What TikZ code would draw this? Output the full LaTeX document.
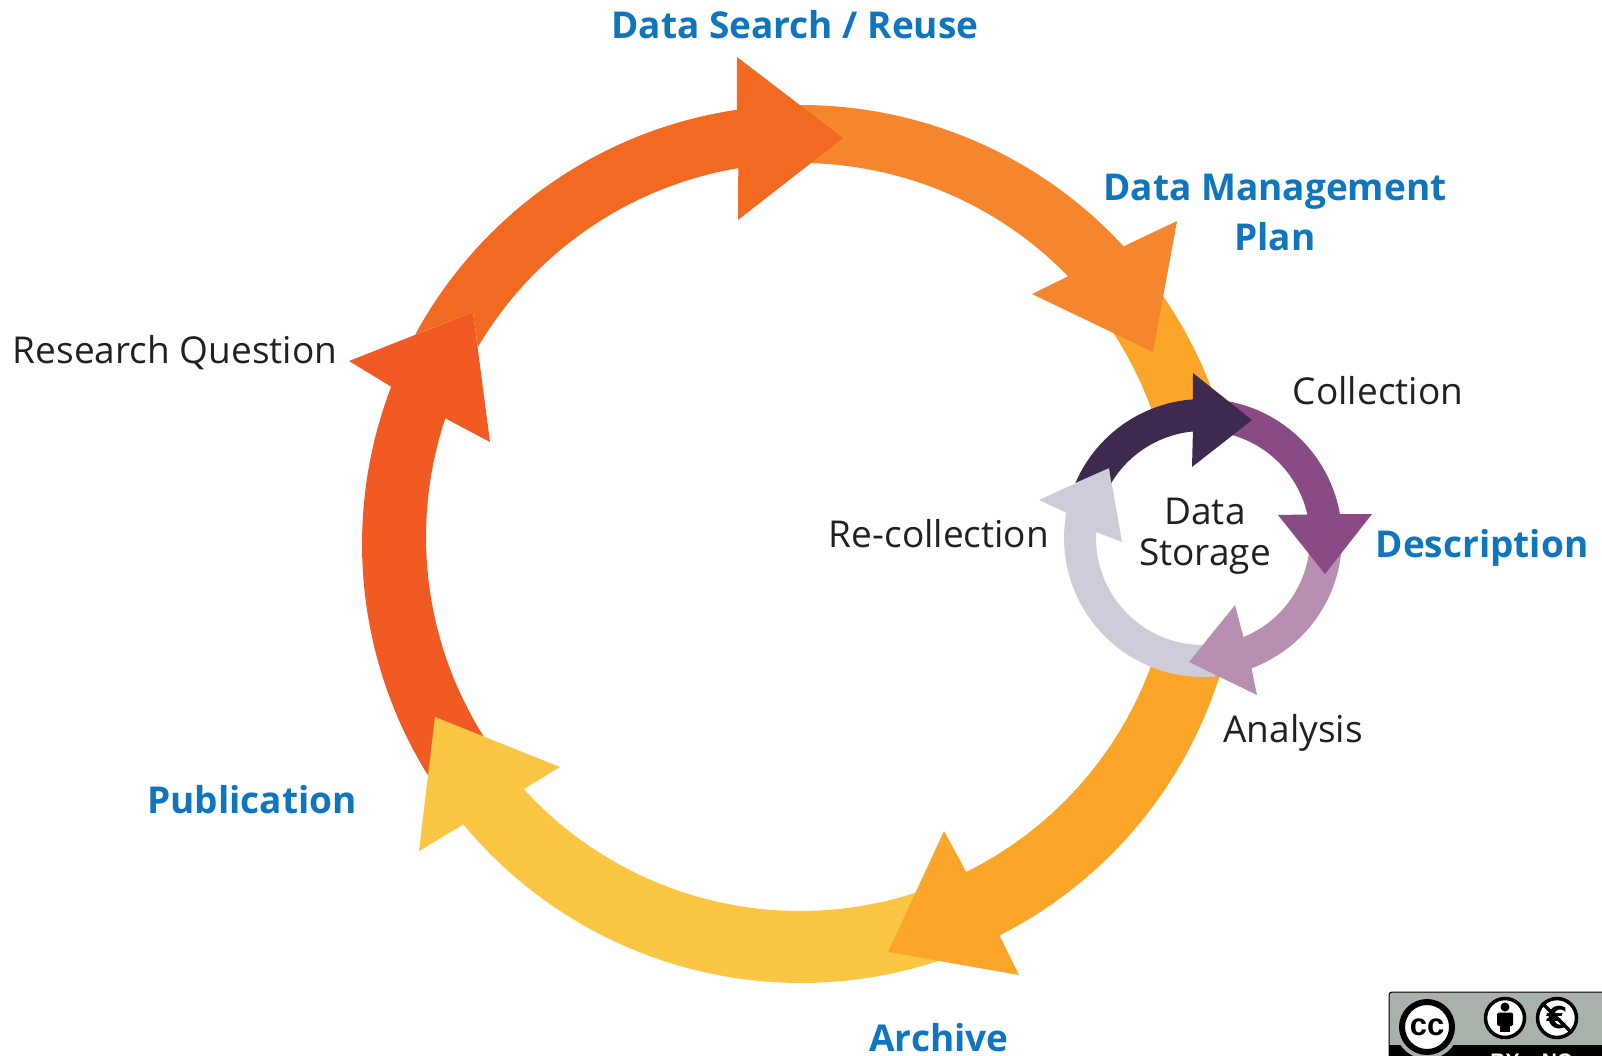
\documentclass[tikz,border=0pt]{standalone}
\usepackage{fontspec}
\setmainfont{Open Sans}
\newfontfamily\badgeFont{Liberation Sans}
\newfontfamily\euroFont{DejaVu Sans}
\definecolor{stepRed}{HTML}{F15A22}
\definecolor{stepDark}{HTML}{F26A21}
\definecolor{stepOrange}{HTML}{F6862D}
\definecolor{stepAmber}{HTML}{FBA629}
\definecolor{stepYellow}{HTML}{FCC645}
\definecolor{loopDark}{HTML}{3F2A4F}
\definecolor{loopPurple}{HTML}{8A4A86}
\definecolor{loopMauve}{HTML}{B78FB0}
\definecolor{loopPale}{HTML}{CFCCDA}
\definecolor{keyBlue}{HTML}{0F75BC}
\definecolor{plainText}{HTML}{231F20}
\definecolor{badgeGrey}{HTML}{A9B1AB}
\tikzset{
  ringOuter/.style 2 args={insert path={-- plot[domain=#1:#2,samples=40] ({801+439*cos(\x)},{544+439*sin(\x)})}},
  ringInner/.style 2 args={insert path={-- plot[domain=#1:#2,samples=40] ({800+374*cos(\x)},{537+374*sin(\x)})}},
  loopOuter/.style 2 args={insert path={-- plot[domain=#1:#2,samples=30] ({1203+139*cos(\x)},{538+139*sin(\x)})}},
  loopInner/.style 2 args={insert path={-- plot[domain=#1:#2,samples=30] ({1203+107*cos(\x)},{538+107*sin(\x)})}}
}
\begin{document}
\begin{tikzpicture}[x=1pt,y=-1pt]

    %
    % Styles for labels
    %
    \tikzstyle{plainLabel} = [anchor=base, inner sep=0pt, align=center, text=plainText,
                              font={\fontsize{37}{41}\selectfont}]
    \tikzstyle{keyLabel} = [anchor=base, inner sep=0pt, align=center, text=keyBlue,
                            font={\fontsize{37}{50}\selectfont\bfseries}]
    \tikzstyle{badgeIcon} = [draw=black, line width=3.5pt, fill=white];
    \tikzstyle{badgeText} = [inner sep=0pt, text=white, font={\fontsize{21}{21}\selectfont\badgeFont\bfseries}];

    \clip (0,0) rectangle (1602,1055);

    %
    % Outer ring
    %
    \fill[stepRed] (349,361) -- (473,312) -- (490,442) [ringInner={198.5}{145}, ringOuter={145}{201}] -- cycle;
    \fill[stepYellow] (419,851) -- (435,717) -- (560,767) [ringInner={137.6}{70}, ringOuter={70}{140.3}] -- cycle;
    \fill[stepAmber] (1019,975) -- (888,952) -- (944,831) [ringInner={423.6}{320}, ringOuter={320}{423.1}] -- cycle;
    \fill[stepOrange] (1177,221) -- (1153,352) -- (1032,294) [ringInner={315.8}{268}, ringOuter={268}{317.3}] -- cycle;
    \fill[stepDark] (473,312) [ringInner={210.5}{260.5}] -- (738,220) -- (843,138) -- (737,57) [ringOuter={261.6}{208.5}] -- cycle;

    %
    % Inner loop, the ring does not run through it
    %
    \fill[white] (1203,538) circle (120);
    \fill[loopPale] (1039,500) -- (1109,468) -- (1122,542) [loopInner={183.2}{85}, loopOuter={85}{190.5}] -- cycle;
    \fill[loopMauve] (1257,695) -- (1189,662) -- (1235,605) [loopInner={67.8}{5}, loopOuter={5}{69.6}] -- cycle;
    \fill[loopPurple] (1372,514) -- (1325,574) -- (1278,515) [loopInner={347.3}{275}, loopOuter={275}{350.1}] -- cycle;
    \fill[loopDark] (1109,468) [loopInner={211}{264.6}] -- (1192,467) -- (1252,420) -- (1193,373) [loopOuter={265.8}{203.3}] -- cycle;

    %
    % Labels
    %
    \node[keyLabel, name=dataSearch] at (795,38) {Data Search / Reuse};
    \node[keyLabel, name=managementPlan] at (1275,250) {Data Management\\Plan};
    \node[keyLabel, name=description] at (1482,557) {Description};
    \node[keyLabel, name=archive] at (939,1051) {Archive};
    \node[keyLabel, name=publication] at (252,813) {Publication};
    \node[plainLabel, name=researchQuestion] at (175,363) {Research Question};
    \node[plainLabel, name=collection] at (1378,404) {Collection};
    \node[plainLabel, name=analysis] at (1293,742) {Analysis};
    \node[plainLabel, name=recollection] at (939,547) {Re-collection};
    \node[plainLabel, name=dataStorage] at (1205,565) {Data\\Storage};

    %
    % Licence badge
    %
    \draw[black, fill=badgeGrey, rounded corners=3pt, line width=1pt] (1389,992) rectangle (1620,1075);
    \fill[black] (1389,1045) rectangle (1620,1075);
    \fill[badgeGrey] (1427,1027) circle (32);
    \node[badgeIcon, circle, minimum size=50pt, line width=6pt, name=ccMark] at (1427,1027) {};
    \node[inner sep=0pt, font={\fontsize{31}{31}\selectfont\badgeFont\bfseries}] at (ccMark) {cc};
    \node[badgeIcon, circle, minimum size=39pt, name=byMark] at (1505,1018) {};
    \fill[black] (1505,1007) circle (4.5);
    \fill[black, rounded corners=1.5pt] (1497,1012.5) rectangle (1513,1026);
    \fill[black] (1500,1020) rectangle (1510,1032);
    \node[badgeIcon, circle, minimum size=39pt, name=ncMark] at (1557,1018) {};
    \node[inner sep=0pt, font={\fontsize{30}{30}\selectfont\euroFont\bfseries}] at (ncMark) {€};
    \draw[black, line width=3.5pt] (ncMark.north west) -- (ncMark.south east);
    \node[badgeText, name=byText] at (1505,1061) {BY};
    \node[badgeText, name=ncText] at (1557,1061) {NC};
\end{tikzpicture}
\end{document}
